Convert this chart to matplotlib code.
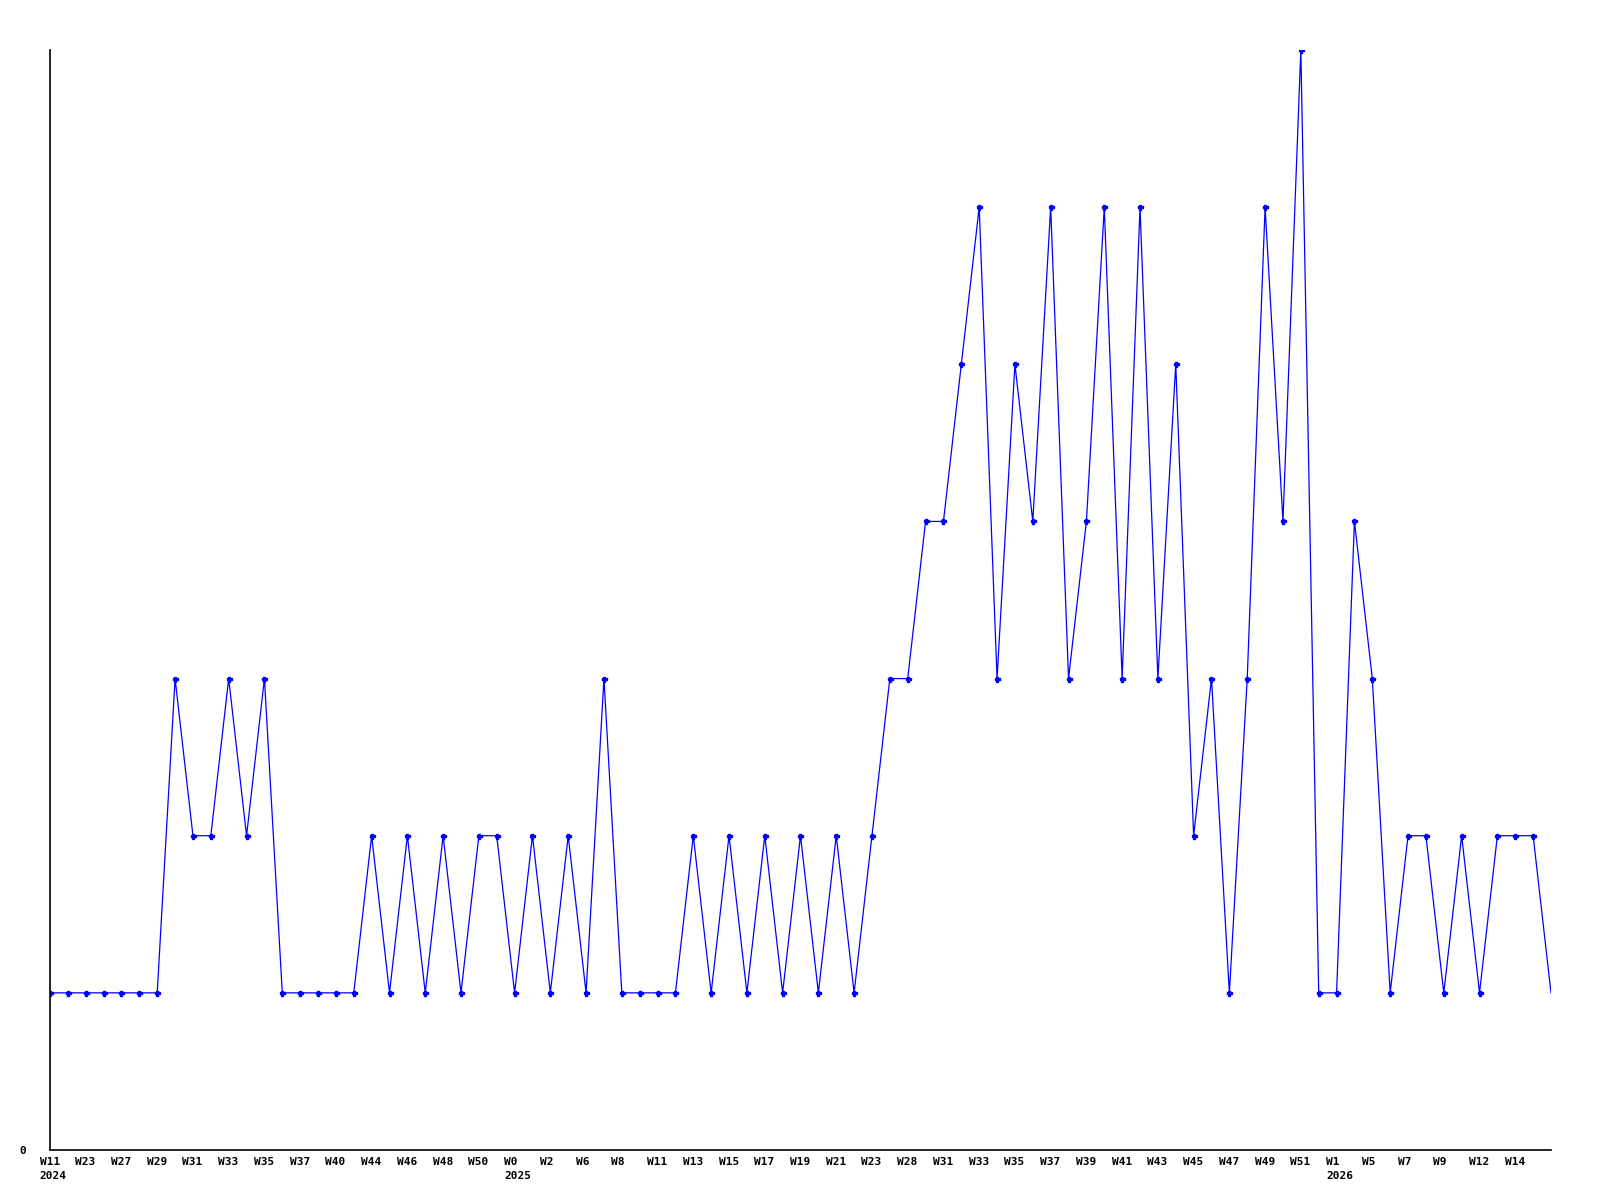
import matplotlib
matplotlib.use("Agg")
import matplotlib.pyplot as plt
from matplotlib.transforms import ScaledTranslation

# weekly counts, one value per week
values = [1, 1, 1, 1, 1, 1, 1, 3, 2, 2, 3, 2, 3, 1, 1, 1, 1, 1, 2, 1,
          2, 1, 2, 1, 2, 2, 1, 2, 1, 2, 1, 3, 1, 1, 1, 1, 2, 1, 2, 1,
          2, 1, 2, 1, 2, 1, 2, 3, 3, 4, 4, 5, 6, 3, 5, 4, 6, 3, 4, 6,
          3, 6, 3, 5, 2, 3, 1, 3, 6, 4, 7, 1, 1, 4, 3, 1, 2, 2, 1, 2,
          1, 2, 2, 2, 1]

# labels shown on every second week
week_labels = ["W11", "W23", "W27", "W29", "W31", "W33", "W35", "W37", "W40", "W44",
               "W46", "W48", "W50", "W0", "W2", "W6", "W8", "W11", "W13", "W15",
               "W17", "W19", "W21", "W23", "W28", "W31", "W33", "W35", "W37", "W39",
               "W41", "W43", "W45", "W47", "W49", "W51", "W1", "W5", "W7", "W9",
               "W12", "W14"]
year_labels = {"W11": "2024", "W0": "2025", "W1": "2026"}

x = list(range(len(values)))
tick_pos = x[0:len(week_labels) * 2:2]
labels = []
seen = set()
for w in week_labels:
    if w in year_labels and year_labels[w] not in seen:
        labels.append(w + "\n" + year_labels[w])
        seen.add(year_labels[w])
    else:
        labels.append(w)

fig = plt.figure(figsize=(16, 12), dpi=100)
ax = fig.add_axes([50 / 1600, 50 / 1200, 1501 / 1600, 1100 / 1200])

ax.plot(x, values, color="#0000ff", linewidth=0.9, marker="P", markersize=3.6,
        markevery=list(range(len(values) - 1)))

ax.set_xlim(0, len(values) - 1)
ax.set_ylim(0, 7)

font = dict(family="DejaVu Sans Mono", weight="bold", size=8)
ax.set_xticks(tick_pos)
ax.set_xticklabels(labels, fontdict=font, ha="left", linespacing=1.45)
ax.set_yticks([0])
ax.set_yticklabels(["0"], fontdict=font)
ax.tick_params(axis="x", length=0, pad=5)
ax.tick_params(axis="y", length=0, pad=17)

offset = ScaledTranslation(-10.5 / 100, 0, fig.dpi_scale_trans)
for lab in ax.get_xticklabels():
    lab.set_transform(lab.get_transform() + offset)

ax.spines["top"].set_visible(False)
ax.spines["right"].set_visible(False)
ax.spines["left"].set_linewidth(1.2)
ax.spines["bottom"].set_linewidth(1.2)

fig.savefig("out.png", dpi=100)
